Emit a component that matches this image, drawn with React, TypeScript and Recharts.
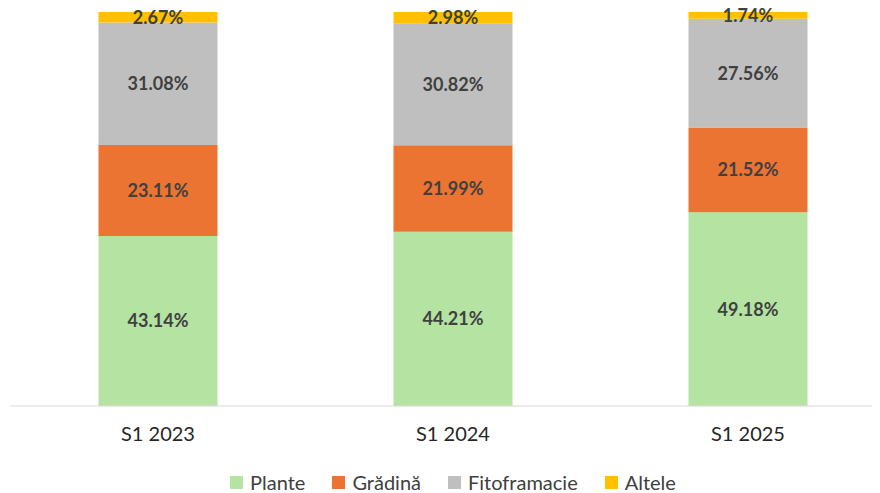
import { BarChart, Bar, XAxis, YAxis, Legend, LabelList } from 'recharts'

const perioade = ['S1 2023', 'S1 2024', 'S1 2025']
const plante = [43.14, 44.21, 49.18]
const gradina = [23.11, 21.99, 21.52]
const fitofarmacie = [31.08, 30.82, 27.56]
const altele = [2.67, 2.98, 1.74]

const serii = [
  { key: 'plante', nume: 'Plante', culoare: '#B4E3A2' },
  { key: 'gradina', nume: 'Grădină', culoare: '#EB7433' },
  { key: 'fitofarmacie', nume: 'Fitoframacie', culoare: '#BFBFBF' },
  { key: 'altele', nume: 'Altele', culoare: '#FFC000' },
]

const dados = perioade.map((p, i) => ({
  perioada: p,
  plante: plante[i],
  gradina: gradina[i],
  fitofarmacie: fitofarmacie[i],
  altele: altele[i],
}))

const font = 'Lato, "Open Sans", sans-serif'

function Legenda() {
  return (
    <div style={{ display: 'flex', justifyContent: 'center', gap: 27, fontFamily: font, fontSize: 20, color: '#404040', lineHeight: '26px' }}>
      {serii.map((s) => (
        <div key={s.key} style={{ display: 'flex', alignItems: 'center', gap: 7 }}>
          <span style={{ width: 13, height: 13, background: s.culoare, display: 'inline-block' }} />
          <span>{s.nume}</span>
        </div>
      ))}
    </div>
  )
}

export default function App() {
  return (
    <div style={{ width: 872, height: 485, overflow: 'hidden' }}>
      <BarChart width={890} height={485} data={dados} margin={{ top: 4, right: 2.5, left: 2.5, bottom: 0 }}>
        <XAxis
          dataKey="perioada"
          axisLine={{ stroke: '#D9D9D9' }}
          tickLine={false}
          height={40}
          tick={{ fontSize: 20, fill: '#262626', fontFamily: font }}
          dy={13}
        />
        <YAxis hide domain={[0, 100]} />
        <Legend
          verticalAlign="bottom"
          height={47}
          content={() => <Legenda />}
          wrapperStyle={{ top: 461, left: 0, width: 890 }}
        />
        {serii.map((s) => (
          <Bar key={s.key} dataKey={s.key} stackId="a" fill={s.culoare} barSize={119} isAnimationActive={false}>
            <LabelList
              dataKey={s.key}
              position="center"
              formatter={(v: number) => `${v.toFixed(2)}%`}
              style={{ fontSize: 18, fontWeight: 700, fill: '#404040', fontFamily: font }}
            />
          </Bar>
        ))}
      </BarChart>
    </div>
  )
}
